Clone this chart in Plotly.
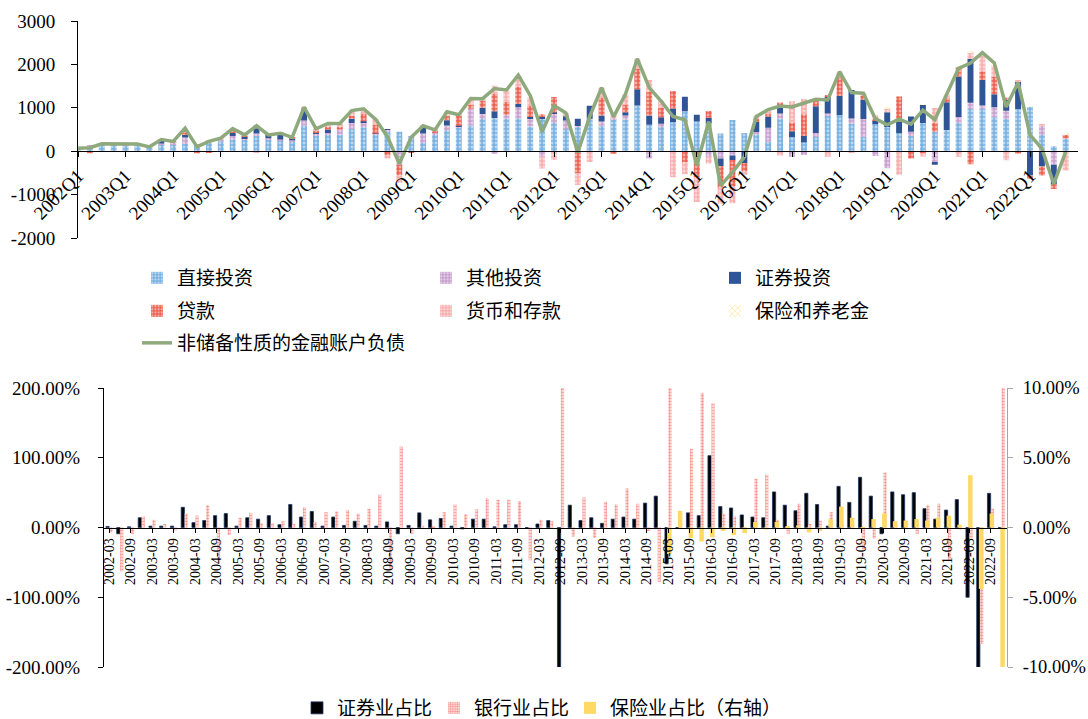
import plotly.graph_objects as go

# ---------------- categories ----------------
quarters = [f"{y}Q{q}" for y in range(2002, 2023) for q in range(1, 5)]
months = [f"{y}-{m:02d}" for y in range(2002, 2023) for m in (3, 6, 9, 12)]

# ---------------- upper panel: quarterly liabilities (100m USD) ----------------
direct_inv = [60, 110, 150, 150, 140, 150, 90, 160, 160, 165, 130, 190,
              230, 270, 260, 350, 270, 250, 230, 590, 370, 380, 380, 510,
              550, 380, 450, 450, 340, 190, 390, 480, 555, 590, 740, 765,
              750, 760, 570, 760, 650, 510, 560, 750, 585, 740, 725, 1055,
              610, 555, 665, 920, 685, 640, 410, 720, 420, 390, 215, 750,
              330, 200, 330, 830, 830, 640, 335, 620, 555, 415, 350, 650,
              450, 490, 650, 975, 975, 780, 740, 975, 1020, 375, 115, 295]
other_inv = [10, 20, 20, 20, 15, 15, 10, 20, 30, 150, 20, 30,
             50, 80, 40, 60, 30, 20, 20, 120, 40, 40, 120, 140,
             110, 20, 40, -320, 10, 220, 30, 110, 20, 390, 120, -60,
             90, 250, 170, -130, 220, 195, 20, 0, 100, 20, 100, 0,
             -170, 80, 0, 0, 0, -130, -170, -100, 0, 50, 325, 120,
             -130, -90, 90, 40, 0, 115, 405, -110, -390, 0, 100, 0,
             -250, 0, 140, 140, 80, 235, 190, 0, 0, 210, -310, 0]
portfolio_inv = [0, 0, 0, 0, 0, 0, 0, 70, 20, 60, 0, 0,
                 0, 70, 40, 120, 80, 140, 50, 230, 20, 80, 0, 100,
                 30, 10, 20, 0, 0, 140, 20, 125, 10, 0, 140, 155,
                 0, 80, 50, 30, 20, 100, 170, 300, 140, 0, 70, 375,
                 210, 150, 320, 335, 155, 130, -170, -100, -270, 245, 255, 150,
                 130, 150, 615, 385, 440, 655, 450, 90, 345, 275, 350, 420,
                 -60, 640, 930, 1015, 585, 295, 270, 625, -560, -350, -445, 0]
loans = [0, -50, 0, 0, 0, 0, 0, 20, 15, 60, -50, -20,
         0, 60, 20, 60, 0, 10, 20, 40, 40, 60, 70, 60,
         170, 200, -100, -230, -30, 20, 30, 100, 240, 90, 160, 400,
         300, 400, 250, 60, 360, 50, -500, 0, 400, -60, 180, 470,
         545, 220, 400, -250, -600, 155, -500, -600, -200, 60, 75, 100,
         200, 500, 140, 40, 440, 0, 80, 40, 0, 570, -170, -40,
         200, 100, 220, -300, 200, 400, 30, -55, -80, -210, -115, 100]
currency_dep = [0, 0, 0, 0, 0, 0, 0, 0, 0, 80, 0, 25,
                20, 40, 15, -40, 0, 0, 0, 30, 45, 80, 70, 120,
                110, 130, -70, -180, 0, 20, 30, 80, 20, 150, 50, 190,
                270, 250, 200, -270, -200, 25, -280, -250, 235, 90, 235, 230,
                275, 155, -600, -280, -570, -155, -370, -400, -80, 60, 100, -100,
                490, 350, 20, -130, 110, -40, 60, 80, 90, -545, 0, -80,
                345, 80, -130, 155, 370, 265, -210, 40, 0, 50, 0, -445]
insurance = [0, 0, 0, 0, 0, 0, 0, 0, 0, 0, 0, 0,
             0, 0, 0, 0, 0, 0, 0, 0, 0, 0, 0, 0,
             0, 0, 0, 0, 0, 0, 0, 0, 0, 0, 0, 0,
             0, 0, 0, 0, 0, 0, 0, 0, 0, 0, 0, 0,
             0, 0, 0, 0, 0, 0, 0, 0, 0, 0, 0, 0,
             0, 0, 10, 0, 15, 0, 0, 0, 10, 0, 0, 10,
             0, 0, 15, 10, 0, 10, 0, 0, 10, 0, 0, 10]
nonreserve_liab = [70, 80, 170, 170, 155, 165, 100, 270, 225, 530, 100, 225,
                   300, 520, 375, 585, 375, 415, 320, 1015, 515, 640, 640, 935,
                   975, 740, 335, -290, 320, 585, 490, 910, 840, 1215, 1210, 1445,
                   1410, 1755, 1285, 450, 1050, 880, -30, 800, 1465, 790, 1310, 2130,
                   1465, 1155, 800, 725, -330, 685, -795, -485, -130, 800, 960, 1040,
                   1020, 1115, 1195, 1180, 1835, 1350, 1335, 750, 610, 740, 625, 945,
                   725, 1310, 1910, 2030, 2270, 2035, 1020, 1585, 375, 60, -755, -15]

# ---------------- lower panel: shares (%) ----------------
sec_share = [1.5, -9, 1, 14, 2, 2, 2, 29, 7, 10, 17, 20,
             2, 14, 12, 17, 4, 33, 15, 23, 2, 15, 3, 9,
             3, 2, 8, -9, 3, 21, 11, 13, 2, -2, 12, 12,
             1, 4, 4, 0, 5, 10, -230, 32, 10, 14, 6, 12,
             15, 12, 35, 45, -52, 0, 21, 17, 103, 30, 28, 18,
             15, 14, 51, 32, 24, 49, 33, 2, 59, 36, 72, 45,
             -9, 51, 47, 50, 27, 12, 25, 40, -100, -240, 49, 0]
bank_share = [-7, -63, -9, 16, 11, 5, -4, 20, 17, 32, -43, -11,
              14, 21, 6, 6, 9, 5, 29, 8, 22, 23, 25, 20,
              27, 47, -62, 116, -9, 3, 2, 22, 33, 19, 26, 42,
              40, 40, 38, -47, 11, 9, 240, -13, 43, -15, 37, 33,
              56, 34, -5, -78, 240, 5, 113, 193, 178, 20, 16, -8,
              70, 76, 11, -9, 34, 5, 10, 22, 5, 5, -32, -16,
              79, 3, 5, -9, 32, 34, -47, -3, -16, -167, 27, 240]
ins_share = [None] * 52 + [-1.9, 1.2, -0.75, -1.0, -0.7, -0.25, -0.55, -0.4,
                           0.4, -0.15, 0.4, 0.1, 0.15, -0.35, -0.25, 0.6,
                           1.5, 0.7, -0.1, 0.6, 1.0, 0.45, 0.5, 0.6,
                           0.5, 0.7, 0.85, 0.2, 3.75, -4.4, 1.0, -12]

SERIF = "Liberation Serif, Times New Roman, serif"
CJK = "Noto Sans CJK SC, sans-serif"

fig = go.Figure()
qidx = list(range(len(quarters)))


def pattern(bg, fg="white", shape=".", size=4, solidity=0.4):
    return dict(color=bg, line=dict(width=0),
                pattern=dict(shape=shape, fgcolor=fg, bgcolor=bg,
                             size=size, solidity=solidity))


stack = [
    ("直接投资", direct_inv, pattern("#78b0e0"), "legend"),
    ("其他投资", other_inv, pattern("#c7a0cf"), "legend"),
    ("证券投资", portfolio_inv, dict(color="#2f5597", line=dict(width=0)), "legend"),
    ("贷款", loans, pattern("#ec6050"), "legend2"),
    ("货币和存款", currency_dep, pattern("#f7afae"), "legend2"),
    ("保险和养老金", insurance, pattern("#ffffff", fg="#ffd966", shape="x", size=5, solidity=0.4), "legend2"),
]

# stacked columns: positives pile upward, negatives downward
pos = [0.0] * len(qidx)
neg = [0.0] * len(qidx)
for name, vals, marker, lg in stack:
    base = []
    for k, v in enumerate(vals):
        if v >= 0:
            base.append(pos[k])
            pos[k] += v
        else:
            base.append(neg[k])
            neg[k] += v
    fig.add_trace(go.Bar(x=qidx, y=vals, base=base, name=name, marker=marker,
                         width=0.5, xaxis="x", yaxis="y", legend=lg))

fig.add_trace(go.Scatter(x=qidx, y=nonreserve_liab, mode="lines", name="非储备性质的金融账户负债",
                         line=dict(color="#8eaa7c", width=3.5), xaxis="x", yaxis="y",
                         legend="legend3"))

# lower panel bars
midx = list(range(len(months)))
fig.add_trace(go.Bar(x=midx, y=sec_share, name="证券业占比", width=0.3, offset=-0.32,
                     marker=dict(color="#000000", line=dict(width=0.8, color="#1f3864")),
                     xaxis="x2", yaxis="y2", legend="legend4"))
fig.add_trace(go.Bar(x=midx, y=bank_share, name="银行业占比", width=0.3, offset=0.0,
                     marker=dict(color="#ffffff", line=dict(width=0),
                                 pattern=dict(shape=".", fgcolor="#ee3b30", bgcolor="#fff0ee",
                                              size=3, solidity=0.6)),
                     xaxis="x2", yaxis="y2", legend="legend4"))
fig.add_trace(go.Bar(x=midx, y=ins_share, name="保险业占比（右轴）", width=0.42, offset=-0.12,
                     marker=dict(color="#ffd966", line=dict(width=0)),
                     xaxis="x2", yaxis="y3", legend="legend5"))

W, H = 1088, 719


def px_x(p):
    return p / W


def px_y(p):
    return 1 - p / H


axis_common = dict(showgrid=False, zeroline=False, showline=True, linecolor="#000000",
                   automargin=False, ticks="outside", tickcolor="#000000",
                   tickfont=dict(family=SERIF, size=19, color="#000"))

legend_common = dict(orientation="h", xanchor="left", yanchor="middle",
                     bgcolor="rgba(0,0,0,0)", font=dict(family=CJK, size=19, color="#000"),
                     entrywidthmode="pixels", traceorder="normal")

fig.update_layout(
    width=W, height=H,
    margin=dict(l=0, r=0, t=0, b=0, autoexpand=False),
    paper_bgcolor="white", plot_bgcolor="white",
    barmode="overlay",
    xaxis=dict(axis_common, domain=[px_x(78), px_x(78 + 84 * 11.9)], range=[0, 84],
               anchor="free", position=px_y(151.2),
               tickvals=qidx[::4], ticktext=quarters[::4], tickangle=-45,
               ticklen=5, linewidth=1.3),
    yaxis=dict(axis_common, domain=[px_y(238), px_y(21)], range=[-2000, 3000],
               tickvals=[-2000, -1000, 0, 1000, 2000, 3000],
               ticktext=["-2000", "-1000", "0", "1000", "2000", "3000"],
               ticklen=6, ticklabelstandoff=12, anchor="x"),
    xaxis2=dict(axis_common, domain=[px_x(104), px_x(1007)], range=[-0.5, 83.5],
                anchor="free", position=px_y(527.5),
                tickvals=midx[::2], ticktext=months[::2], tickangle=-90,
                ticklen=4, linewidth=1.3, tickfont=dict(family=SERIF, size=14, color="#000")),
    yaxis2=dict(axis_common, domain=[px_y(667), px_y(388)], range=[-200, 200],
                tickvals=[-200, -100, 0, 100, 200],
                ticktext=["-200.00%", "-100.00%", "0.00%", "100.00%", "200.00%"],
                ticklen=5, ticklabelstandoff=14, anchor="x2"),
    yaxis3=dict(axis_common, overlaying="y2", side="right", anchor="x2", range=[-10, 10],
                tickvals=[-10, -5, 0, 5, 10],
                ticktext=["-10.00%", "-5.00%", "0.00%", "5.00%", "10.00%"],
                tickfont=dict(family=SERIF, size=18.5, color="#000"),
                linecolor="#a6a6a6", tickcolor="#a6a6a6", ticklen=5, ticklabelstandoff=6),
    legend=dict(legend_common, x=px_x(137), y=px_y(278), entrywidth=244),
    legend2=dict(legend_common, x=px_x(137), y=px_y(311), entrywidth=244),
    legend3=dict(legend_common, x=px_x(137), y=px_y(343), entrywidth=244),
    legend4=dict(legend_common, x=px_x(297), y=px_y(708), entrywidth=92),
    legend5=dict(legend_common, x=px_x(570), y=px_y(708)),
)

fig.write_html("out.html")
